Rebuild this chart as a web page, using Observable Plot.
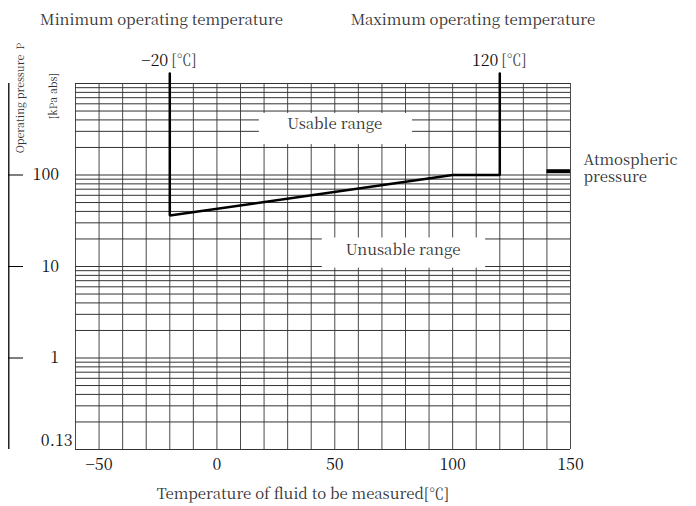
<!DOCTYPE html>
<html>
<head>
<meta charset="utf-8">
<script src="https://cdn.jsdelivr.net/npm/d3@7"></script>
<script src="https://cdn.jsdelivr.net/npm/@observablehq/plot@0.6"></script>
<style>
  html, body { margin: 0; padding: 0; background: #fff; }
</style>
</head>
<body>
<div id="chart"></div>
<script>
// ---- data ----
const xTicks = [-50, 0, 50, 100, 150];
const xGrid = [-60, -50, -40, -30, -20, -10, 0, 10, 20, 30, 40, 50, 60, 70, 80, 90, 100, 110, 120, 130, 140, 150];
const decades = [0.1, 1, 10, 100];
const mantissas = [1, 2, 3, 4, 5, 6, 7, 8, 9];
const yTicks = [1, 10, 100];
const yMinLabel = [0.13];
const limitTemps = [-20, 120];
const limitLabels = ["−20", "120"];
const boundaryT = [-20, -20, 100, 120, 120];
const boundaryP = [1290, 36, 100, 100, 1290];
const atmT = [140, 150];
const atmP = 110;
const regionNames = ["Usable range", "Unusable range"];
const regionT = [50, 79];
const regionP = [360, 15];
const boxT1 = [18, 44.7];
const boxT2 = [83, 114];
const boxP1 = [215, 9.6];
const boxP2 = [470, 20.5];

// ---- derived tables ----
const yGrid = decades.flatMap(d => mantissas.map(m => +(d * m).toPrecision(3))).concat([1000]);
const boundary = boundaryT.map((t, i) => ({t, p: boundaryP[i]}));
const regions = regionNames.map((name, i) => ({name, t: regionT[i], p: regionP[i]}));
const boxes = boxT1.map((t1, i) => ({t1, t2: boxT2[i], p1: boxP1[i], p2: boxP2[i]}));
const fmt = d => String(d).replace("-", "−");

// ---- layout ----
const W = 696, H = 506, mL = 75, mR = 126, mT = 83, mB = 57;
const xAt = px => -60 + (px - mL) * 210 / (W - mL - mR);
const FONT = "'Noto Serif CJK JP', 'Liberation Serif', serif";
const TXT = 15, NUM = 16;

const chart = Plot.plot({
  width: W,
  height: H,
  marginLeft: mL,
  marginRight: mR,
  marginTop: mT,
  marginBottom: mB,
  x: {domain: [-60, 150], axis: null},
  y: {type: "log", domain: [0.1, 1000], axis: null},
  style: {fontFamily: FONT, color: "#111", background: "white", overflow: "visible"},
  marks: [
    // grid
    Plot.ruleX(xGrid, {stroke: "#4a4a4a", strokeWidth: 1}),
    Plot.ruleY(yGrid, {stroke: "#333", strokeWidth: 1}),
    // label boxes
    Plot.rect(boxes, {x1: "t1", x2: "t2", y1: "p1", y2: "p2", fill: "white"}),
    Plot.text(regions, {x: "t", y: "p", text: "name", fontSize: TXT, fill: "#333"}),
    // boundary
    Plot.line(boundary, {x: "t", y: "p", stroke: "#000", strokeWidth: 2.5, strokeLinejoin: "miter"}),
    // atmospheric pressure
    Plot.ruleY([atmP], {x1: atmT[0], x2: atmT[1], stroke: "#000", strokeWidth: 4}),
    Plot.text(["Atmospheric\npressure"], {x: atmT[1], y: atmP, dx: 13, dy: -3, textAnchor: "start", lineAnchor: "middle", fontSize: TXT, lineHeight: 1.1, fill: "#333"}),
    // limit labels
    Plot.text(limitTemps, {x: d => d, frameAnchor: "top", lineAnchor: "middle", dy: -23, dx: -1.5, textAnchor: "end", text: (d, i) => limitLabels[i], fontSize: NUM}),
    Plot.text(limitTemps, {x: d => d, frameAnchor: "top", lineAnchor: "middle", dy: -23, dx: 1.5, textAnchor: "start", text: () => "[℃]", fontSize: TXT, fill: "#444"}),
    // titles at top
    Plot.text(["Minimum operating temperature"], {x: xAt(161), frameAnchor: "top", lineAnchor: "middle", dy: -63, fontSize: TXT, fill: "#333"}),
    Plot.text(["Maximum operating temperature"], {x: xAt(472.5), frameAnchor: "top", lineAnchor: "middle", dy: -63, fontSize: TXT, fill: "#333"}),
    // x tick labels
    Plot.text(xTicks, {x: d => d, frameAnchor: "bottom", lineAnchor: "middle", dy: 15.5, text: fmt, fontSize: NUM}),
    Plot.text(["Temperature of fluid to be measured[℃]"], {x: xAt(302.5), frameAnchor: "bottom", lineAnchor: "middle", dy: 44.5, fontSize: TXT, fill: "#333"}),
    // y axis
    Plot.ruleX([xAt(8.3)], {y1: 0.1, y2: 1000, stroke: "#000", strokeWidth: 1.3}),
    Plot.ruleY(yTicks, {x1: xAt(8), x2: xAt(23), stroke: "#000", strokeWidth: 1}),
    Plot.text(yTicks, {x: -60, y: d => d, dx: -16.5, textAnchor: "end", text: fmt, fontSize: NUM}),
    Plot.text(yMinLabel, {x: -60, y: d => d, dx: -3, dy: 2, textAnchor: "end", text: fmt, fontSize: NUM}),
    Plot.text(["Operating pressure\u00a0\u00a0P"], {frameAnchor: "top-left", textAnchor: "middle", lineAnchor: "middle", dx: -55, dy: 14.5, rotate: -90, fontSize: 10.5, fill: "#333"}),
    Plot.text(["[kPa abs]"], {frameAnchor: "top-left", textAnchor: "middle", lineAnchor: "middle", dx: -22, dy: 12.7, rotate: -90, fontSize: 10.5, fill: "#333"})
  ]
});
document.getElementById("chart").appendChild(chart);
</script>
</body>
</html>
